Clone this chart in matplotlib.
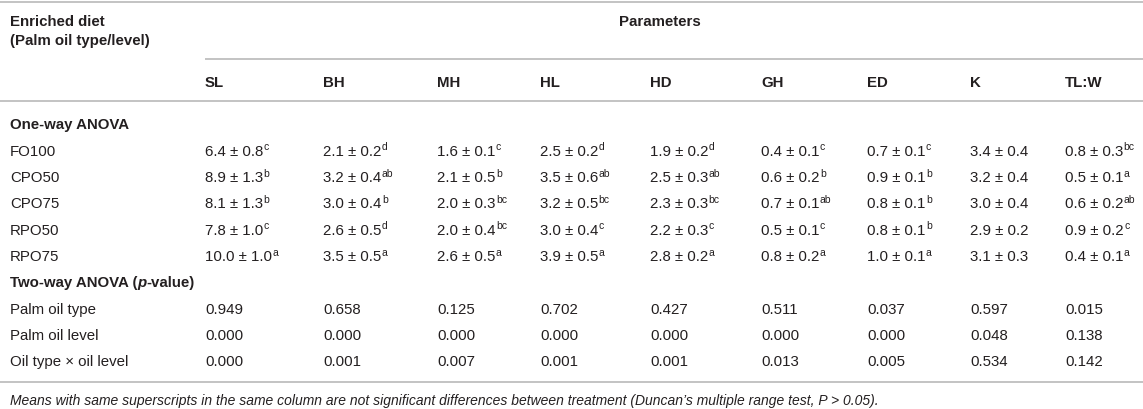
import matplotlib
matplotlib.use("Agg")
import matplotlib.pyplot as plt

plt.rcParams['font.family'] = ['Liberation Sans', 'DejaVu Sans']

# table content
params = ['SL', 'BH', 'MH', 'HL', 'HD', 'GH', 'ED', 'K', 'TL:W']
diets = ['FO100', 'CPO50', 'CPO75', 'RPO50', 'RPO75']
means = [
    [6.4, 2.1, 1.6, 2.5, 1.9, 0.4, 0.7, 3.4, 0.8],
    [8.9, 3.2, 2.1, 3.5, 2.5, 0.6, 0.9, 3.2, 0.5],
    [8.1, 3.0, 2.0, 3.2, 2.3, 0.7, 0.8, 3.0, 0.6],
    [7.8, 2.6, 2.0, 3.0, 2.2, 0.5, 0.8, 2.9, 0.9],
    [10.0, 3.5, 2.6, 3.9, 2.8, 0.8, 1.0, 3.1, 0.4],
]
sds = [
    [0.8, 0.2, 0.1, 0.2, 0.2, 0.1, 0.1, 0.4, 0.3],
    [1.3, 0.4, 0.5, 0.6, 0.3, 0.2, 0.1, 0.4, 0.1],
    [1.3, 0.4, 0.3, 0.5, 0.3, 0.1, 0.1, 0.4, 0.2],
    [1.0, 0.5, 0.4, 0.4, 0.3, 0.1, 0.1, 0.2, 0.2],
    [1.0, 0.5, 0.5, 0.5, 0.2, 0.2, 0.1, 0.3, 0.1],
]
letters = [
    ['c', 'd', 'c', 'd', 'd', 'c', 'c', '', 'bc'],
    ['b', 'ab', 'b', 'ab', 'ab', 'b', 'b', '', 'a'],
    ['b', 'b', 'bc', 'bc', 'bc', 'ab', 'b', '', 'ab'],
    ['c', 'd', 'bc', 'c', 'c', 'c', 'b', '', 'c'],
    ['a', 'a', 'a', 'a', 'a', 'a', 'a', '', 'a'],
]
effects = ['Palm oil type', 'Palm oil level', 'Oil type \u00d7 oil level']
pvalues = [
    [0.949, 0.658, 0.125, 0.702, 0.427, 0.511, 0.037, 0.597, 0.015],
    [0.000, 0.000, 0.000, 0.000, 0.000, 0.000, 0.000, 0.048, 0.138],
    [0.000, 0.001, 0.007, 0.001, 0.001, 0.013, 0.005, 0.534, 0.142],
]
footnote = ("Means with same superscripts in the same column are not significant "
            "differences between treatment (Duncan\u2019s multiple range test, P > 0.05).")

# layout (pixels)
W, H = 1143, 410
col_x = [205, 323, 437, 540, 650, 761, 867, 970, 1065]
left_x = 10
fs = 10.8
sup_fs = 7.5
txt = '#231f20'
rule = '#b3b3b3'
row_h = 26.3

fig = plt.figure(figsize=(W / 100, H / 100), dpi=100)
ax = fig.add_axes([0, 0, 1, 1])
ax.set_xlim(0, W)
ax.set_ylim(H, 0)
ax.axis('off')
renderer = fig.canvas.get_renderer()


def right_edge(t):
    bb = t.get_window_extent(renderer)
    return ax.transData.inverted().transform((bb.x1, bb.y0))[0]


def cell(x, y, s, sup='', size=fs, **kw):
    t = ax.text(x, y, s, fontsize=size, color=txt, va='baseline', ha='left', **kw)
    if sup:
        ax.text(right_edge(t) + 0.5, y - 5.5, sup, fontsize=sup_fs, color=txt,
                va='baseline', ha='left')
    return t


def hline(y, x0=0, x1=W):
    ax.plot([x0, x1], [y, y], color=rule, lw=1.1, solid_capstyle='butt')


hline(2.5)
cell(left_x, 26.5, 'Enriched diet', fontweight='bold')
cell(left_x, 45, '(Palm oil type/level)', fontweight='bold')
ax.text(660, 26.5, 'Parameters', fontsize=fs, color=txt, fontweight='bold',
        ha='center', va='baseline')
hline(60, col_x[0], W)
for x, p in zip(col_x, params):
    cell(x, 87, p, fontweight='bold')
hline(102)

y = 129.5
cell(left_x, y, 'One-way ANOVA', fontweight='bold')
for i, d in enumerate(diets):
    y += row_h
    cell(left_x, y, d)
    for j, x in enumerate(col_x):
        cell(x, y, f'{means[i][j]:.1f} \u00b1 {sds[i][j]:.1f}', letters[i][j])

y += row_h
t = cell(left_x, y, 'Two-way ANOVA (', fontweight='bold')
t = cell(right_edge(t), y, 'p', fontweight='bold', fontstyle='italic')
cell(right_edge(t), y, '-value)', fontweight='bold')
for i, e in enumerate(effects):
    y += row_h
    cell(left_x, y, e)
    for j, x in enumerate(col_x):
        cell(x, y, f'{pvalues[i][j]:.3f}')

hline(383)
cell(left_x, 405, footnote, size=10, fontstyle='italic')

fig.savefig('out.png', dpi=100)
